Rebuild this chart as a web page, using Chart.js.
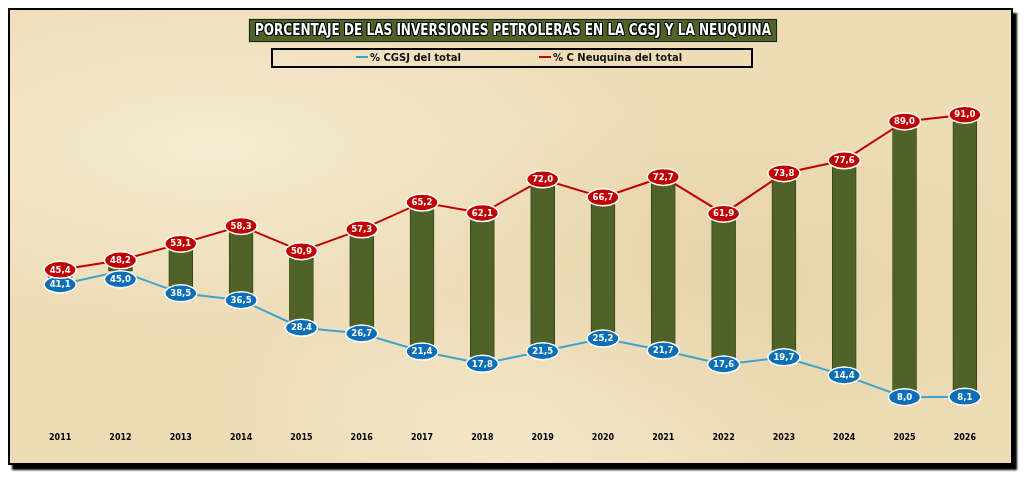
<!DOCTYPE html>
<html>
<head>
<meta charset="utf-8">
<script src="https://cdn.jsdelivr.net/npm/chart.js@4.4.1/dist/chart.umd.min.js"></script>
<style>
  html, body { margin: 0; padding: 0; background: #ffffff; }
  #frame {
    position: absolute; left: 8px; top: 8px; width: 1001px; height: 453px;
    border: 2px solid #000;
    box-shadow: 4px 5px 2px #000;
    background: #eddcb6;
    background-image:
      radial-gradient(ellipse at 20% 30%, rgba(255,250,235,0.5), rgba(255,250,235,0) 40%),
      radial-gradient(ellipse at 70% 60%, rgba(220,195,150,0.35), rgba(220,195,150,0) 45%),
      radial-gradient(ellipse at 50% 90%, rgba(255,248,230,0.4), rgba(255,248,230,0) 40%);
  }
  #chart { position: absolute; left: 0; top: 0; }
  #title {
    position: absolute; left: 239px; top: 9px; width: 526px; height: 21px;
    background: #4f6228; border: 1px solid #1c2410; box-shadow: 0 0 0 1px #d8d0b0;
    overflow: hidden;
  }
  #title span {
    position: absolute; left: 50%; top: 0; white-space: nowrap;
    color: #fff; font: bold 15px "DejaVu Sans Condensed", "DejaVu Sans", sans-serif;
    line-height: 21px;
    text-shadow: -1px -1px 0 #000, 1px -1px 0 #000, -1px 1px 0 #000, 1px 1px 0 #000;
    transform-origin: 0 50%;
  }
  #legend {
    position: absolute; left: 261px; top: 38px; width: 478px; height: 16px;
    border: 2px solid #000;
    font: bold 10px "DejaVu Sans", sans-serif; color: #111;
  }
  .item { position: absolute; top: 1px; line-height: 14px; white-space: nowrap; }
  .mark { display: inline-block; width: 12px; height: 2px; vertical-align: middle; margin-right: 2px; position: relative; top: -1px; }
</style>
</head>
<body>
<div id="frame">
  <canvas id="chart" width="1001" height="453"></canvas>
  <div id="title"><span id="titleText">PORCENTAJE DE LAS INVERSIONES PETROLERAS EN LA CGSJ Y LA NEUQUINA</span></div>
  <div id="legend">
    <span class="item" style="left:83px"><span class="mark" style="background:#3ba3d0"></span>% CGSJ del total</span>
    <span class="item" style="left:266px"><span class="mark" style="background:#c00000"></span>% C Neuquina del total</span>
  </div>
</div>
<script>
const years = ["2011", "2012", "2013", "2014", "2015", "2016", "2017", "2018",
               "2019", "2020", "2021", "2022", "2023", "2024", "2025", "2026"];
const cgsj = [41.1, 45.0, 38.5, 36.5, 28.4, 26.7, 21.4, 17.8, 21.5, 25.2, 21.7, 17.6, 19.7, 14.4, 8.0, 8.1];
const neuquina = [45.4, 48.2, 53.1, 58.3, 50.9, 57.3, 65.2, 62.1, 72.0, 66.7, 72.7, 61.9, 73.8, 77.6, 89.0, 91.0];

// squeeze the title text into its box
const tt = document.getElementById("titleText");
const sx = 516 / tt.offsetWidth;
tt.style.transform = "scaleX(" + sx + ") translateX(-50%)";

// floating bars between the two series
const spread = years.map((_, i) => [Math.min(cgsj[i], neuquina[i]), Math.max(cgsj[i], neuquina[i])]);

const ovalLabels = {
  id: "ovalLabels",
  afterDatasetsDraw(chart) {
    const ctx = chart.ctx;
    const blue = chart.getDatasetMeta(0).data;
    const red = chart.getDatasetMeta(1).data;
    chart.data.datasets.forEach((ds, di) => {
      if (!ds.ovalColor) return;
      const meta = chart.getDatasetMeta(di);
      meta.data.forEach((pt, i) => {
        let y = pt.y;
        // push the lower label down when the two ovals would collide
        if (di === 0 && blue[i].y - red[i].y < 12) y = red[i].y + 19;
        ctx.save();
        ctx.beginPath();
        ctx.ellipse(pt.x, y, 16, 8.5, 0, 0, Math.PI * 2);
        ctx.fillStyle = ds.ovalColor;
        ctx.fill();
        ctx.lineWidth = 1.5;
        ctx.strokeStyle = "#ffffff";
        ctx.stroke();
        ctx.fillStyle = "#ffffff";
        ctx.font = "bold 8.5px 'DejaVu Sans'";
        ctx.textAlign = "center";
        ctx.textBaseline = "middle";
        ctx.fillText(ds.data[i].toFixed(1).replace(".", ","), pt.x, y + 0.5);
        ctx.restore();
      });
    });
  }
};

new Chart(document.getElementById("chart"), {
  type: "bar",
  data: {
    labels: years,
    datasets: [
      {
        type: "line",
        label: "% CGSJ del total",
        data: cgsj,
        borderColor: "#3ba3d0",
        borderWidth: 2,
        pointRadius: 0,
        tension: 0,
        order: 1,
        ovalColor: "#0b6fb8",
      },
      {
        type: "line",
        label: "% C Neuquina del total",
        data: neuquina,
        borderColor: "#c00000",
        borderWidth: 2,
        pointRadius: 0,
        tension: 0,
        order: 1,
        ovalColor: "#c00000",
      },
      {
        label: "spread",
        data: spread,
        backgroundColor: "#4f6228",
        borderColor: "#35441a",
        borderWidth: 1,
        borderSkipped: false,
        barThickness: 24,
        order: 2,
      },
    ]
  },
  plugins: [ovalLabels],
  options: {
    responsive: false,
    animation: false,
    layout: {
      padding: { left: 20, right: 16, top: 74, bottom: 19 }
    },
    scales: {
      x: {
        grid: { display: false },
        border: { display: false },
        ticks: {
          color: "#000",
          font: { family: "DejaVu Sans", weight: "bold", size: 8 },
          padding: 1,
        },
      },
      y: {
        display: false,
        min: 0,
        max: 100,
      },
    },
    plugins: {
      legend: { display: false },
      tooltip: { enabled: false },
    }
  }
});
</script>
</body>
</html>
